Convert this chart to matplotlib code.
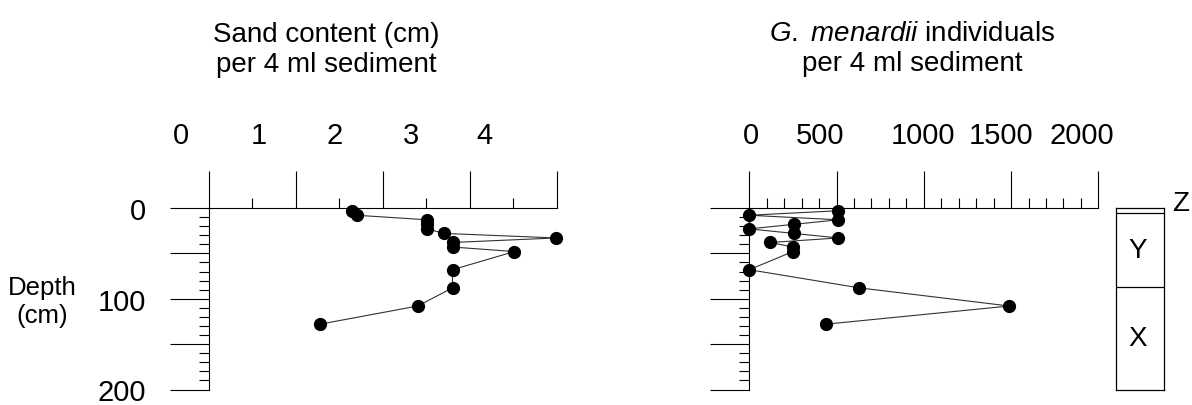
import matplotlib
matplotlib.use('Agg')
import matplotlib.pyplot as plt
from matplotlib.ticker import MultipleLocator
from matplotlib.transforms import ScaledTranslation

plt.rcParams['font.family'] = 'Liberation Sans'
plt.rcParams['mathtext.fontset'] = 'custom'
plt.rcParams['mathtext.rm'] = 'Liberation Sans'
plt.rcParams['mathtext.it'] = 'Liberation Sans:italic'

# data
depth = [3, 8, 13, 18, 23, 28, 33, 38, 43, 48, 68, 88, 108, 128]
sand = [1.64, 1.70, 2.51, 2.51, 2.51, 2.70, 3.99, 2.80, 2.80, 3.51, 2.80, 2.80, 2.40, 1.28]
menardii = [510, 0, 510, 255, 0, 255, 510, 120, 250, 250, 0, 630, 1490, 440]

sand_ticks = [0, 1, 2, 3, 4]
men_ticks = [0, 500, 1000, 1500, 2000]
depth_ticks = [0, 100, 200]

zone_bounds = [0, 5, 87, 200]
zone_names = ['Z', 'Y', 'X']

W, H = 1192, 406
fig = plt.figure(figsize=(W / 100, H / 100), dpi=100)

bottom = (H - 390.5) / H
height = (390.5 - 209) / H


def depth_axes(x0, x1, xmax, xticks, xminor, label_shift):
    ax = fig.add_axes([x0 / W, bottom, (x1 - x0) / W, height])
    ax.patch.set_visible(False)
    ax.set_xlim(0, xmax)
    ax.set_ylim(200, 0)
    ax.spines['right'].set_visible(False)
    ax.spines['bottom'].set_visible(False)
    ax.spines['top'].set_linewidth(0.8)
    ax.spines['left'].set_linewidth(0.8)
    ax.xaxis.set_ticks_position('top')
    ax.yaxis.set_ticks_position('left')
    ax.set_xticks(xticks)
    ax.set_xticklabels([str(t) for t in xticks])
    ax.xaxis.set_minor_locator(MultipleLocator(xminor))
    ax.set_yticks(depth_ticks)
    ax.yaxis.set_minor_locator(MultipleLocator(10))
    ax.yaxis.set_major_locator(MultipleLocator(50))
    ax.tick_params(axis='x', which='major', length=27, width=0.8, pad=15.5, labelsize=21)
    ax.tick_params(axis='x', which='minor', length=7, width=0.8)
    ax.tick_params(axis='y', which='major', length=28, width=0.8, pad=17, labelsize=21)
    ax.tick_params(axis='y', which='minor', length=7, width=0.8)
    # the labels in the original sit a little off their ticks
    for lab, dx in zip(ax.get_xticklabels(), label_shift):
        lab.set_transform(lab.get_transform() + ScaledTranslation(dx / 100, 0, fig.dpi_scale_trans))
    return ax


ax1 = depth_axes(208.7, 557, 4, sand_ticks, 0.5, [-28, -37, -48, -59, -73])
ax1.yaxis.set_major_formatter(plt.FuncFormatter(lambda v, p: str(int(v)) if v % 100 == 0 else ''))
ax1.plot(sand, depth, color='#333333', lw=0.8, marker='o', ms=8.5,
         mfc='black', mec='black', clip_on=False)

ax2 = depth_axes(749.3, 1098.3, 2000, men_ticks, 100, [2, -17, -1, -10, -16])
ax2.tick_params(axis='y', labelleft=False)
ax2.plot(menardii, depth, color='#333333', lw=0.8, marker='o', ms=8.5,
         mfc='black', mec='black', clip_on=False)

fig.text(326 / W, 1 - 50 / H, 'Sand content (cm)\nper 4 ml sediment',
         ha='center', va='center', fontsize=20, linespacing=1.2)
fig.text(912 / W, 1 - 49 / H, r'$\it{G.\ menardii}$ individuals' + '\nper 4 ml sediment',
         ha='center', va='center', fontsize=20, linespacing=1.2)
fig.text(42 / W, 1 - 302 / H, 'Depth\n(cm)', ha='center', va='center',
         fontsize=18.5, linespacing=1.25)

# zone column
az = fig.add_axes([1116 / W, bottom, 48 / W, height])
az.set_xlim(0, 1)
az.set_ylim(200, 0)
az.set_xticks([])
az.set_yticks([])
for s in az.spines.values():
    s.set_linewidth(0.9)
for b in zone_bounds[1:-1]:
    az.axhline(b, color='black', lw=0.9)
for name, top, bot in zip(zone_names, zone_bounds[:-1], zone_bounds[1:]):
    if bot - top < 20:
        az.text(1.35, -5, name, ha='center', va='center', fontsize=20, clip_on=False)
    else:
        az.text(0.45, (top + bot) / 2, name, ha='center', va='center', fontsize=20)

fig.savefig('out.png', dpi=100)
